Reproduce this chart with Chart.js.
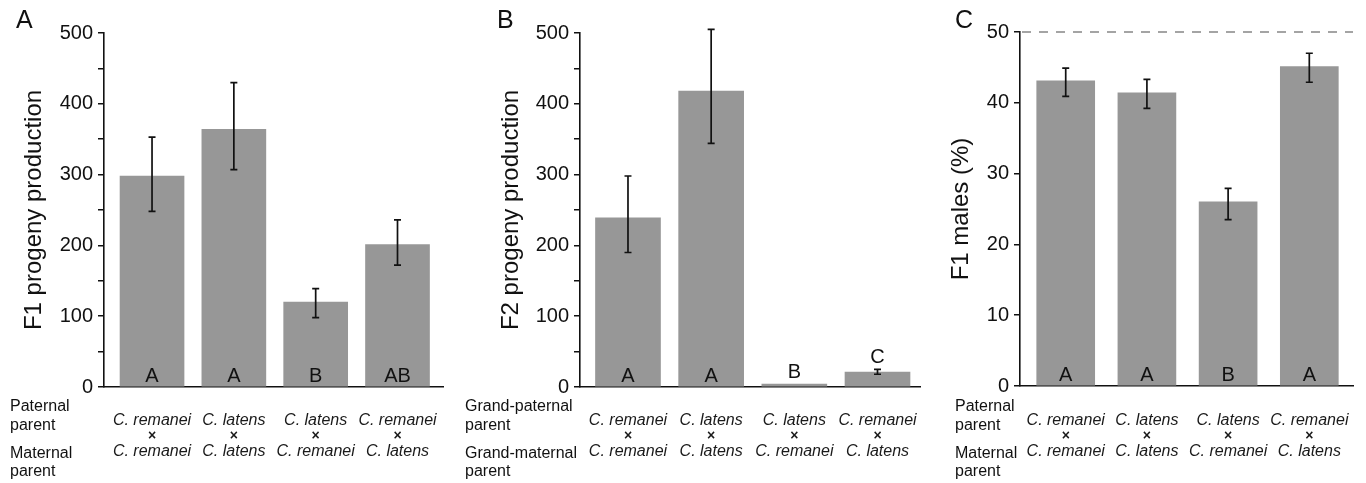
<!DOCTYPE html>
<html><head><meta charset="utf-8">
<script src="https://cdn.jsdelivr.net/npm/chart.js@4/dist/chart.umd.min.js"></script>
<style>
html,body{margin:0;padding:0;background:#fff;width:1366px;height:483px;overflow:hidden}
canvas{position:absolute;top:0}
</style></head><body>
<canvas id="cA" width="460" height="483" style="left:0"></canvas>
<canvas id="cB" width="465" height="483" style="left:460px"></canvas>
<canvas id="cC" width="441" height="483" style="left:925px"></canvas>
<script>
// ---- data ----
const paternal = ['C. remanei', 'C. latens', 'C. latens', 'C. remanei'];
const maternal = ['C. remanei', 'C. latens', 'C. remanei', 'C. latens'];

const f1Progeny     = [298, 364, 120, 201];
const f1ProgenyLow  = [248, 307,  98, 172];
const f1ProgenyHigh = [353, 430, 139, 236];
const f1Letters     = ['A', 'A', 'B', 'AB'];

const f2Progeny     = [239, 418, 4, 21];
const f2ProgenyLow  = [190, 344, null, 18];
const f2ProgenyHigh = [298, 505, null, 25];
const f2Letters     = ['A', 'A', 'B', 'C'];

const f1Males     = [43.1, 41.4, 26.0, 45.1];
const f1MalesLow  = [40.9, 39.2, 23.5, 42.9];
const f1MalesHigh = [44.9, 43.3, 27.9, 47.0];
const malesLetters = ['A', 'A', 'B', 'A'];

const progenyTickLabels = [0, 100, 200, 300, 400, 500];
const malesTickLabels = [0, 10, 20, 30, 40, 50];
const expectedMalesPct = 50;

const rowLabelsParents = ['Paternal', 'parent', 'Maternal', 'parent'];
const rowLabelsGrand = ['Grand-paternal', 'parent', 'Grand-maternal', 'parent'];

// ---- drawing ----
const FONT = "'Liberation Sans', Arial, Helvetica, sans-serif";
Chart.defaults.font.family = FONT;
const INK = '#111';

const deco = {
  id: 'deco',
  afterDatasetsDraw(chart, args, o) {
    const ctx = chart.ctx, xs = chart.scales.x, ys = chart.scales.y;
    const pts = chart.data.datasets[0].data;
    ctx.save();
    if (o.refLine != null) {
      const py = ys.getPixelForValue(o.refLine);
      ctx.strokeStyle = '#a4a4a4'; ctx.lineWidth = 2; ctx.setLineDash([9, 8]);
      ctx.beginPath(); ctx.moveTo(chart.chartArea.left + 2, py); ctx.lineTo(chart.chartArea.right, py); ctx.stroke();
      ctx.setLineDash([]);
    }
    ctx.strokeStyle = INK; ctx.lineWidth = 1.7;
    pts.forEach((d, i) => {
      if (o.low[i] == null) return;
      const px = xs.getPixelForValue(d.x);
      const y1 = ys.getPixelForValue(o.low[i]), y2 = ys.getPixelForValue(o.high[i]);
      ctx.beginPath();
      ctx.moveTo(px, y1); ctx.lineTo(px, y2);
      ctx.moveTo(px - 3.5, y1); ctx.lineTo(px + 3.5, y1);
      ctx.moveTo(px - 3.5, y2); ctx.lineTo(px + 3.5, y2);
      ctx.stroke();
    });
    // significance letters
    ctx.fillStyle = INK; ctx.font = '20px ' + FONT; ctx.textAlign = 'center'; ctx.textBaseline = 'alphabetic';
    const zero = ys.getPixelForValue(0);
    pts.forEach((d, i) => {
      const px = xs.getPixelForValue(d.x);
      const top = ys.getPixelForValue(o.high[i] != null ? o.high[i] : d.y);
      const barTop = ys.getPixelForValue(d.y);
      const base = (zero - barTop > 30) ? zero - 5 : top - 6;
      ctx.fillText(o.letters[i], px, base);
    });
    ctx.restore();
  },
  afterDraw(chart, args, o) {
    const ctx = chart.ctx, xs = chart.scales.x;
    const pts = chart.data.datasets[0].data;
    ctx.save();
    ctx.fillStyle = INK;
    // panel letter
    ctx.font = '25px ' + FONT; ctx.textAlign = 'left'; ctx.textBaseline = 'alphabetic';
    ctx.fillText(o.panel, o.panelX, 28);
    // row labels
    ctx.font = '16px ' + FONT;
    const rowBase = [411, 430, 458, 476];
    o.rows.forEach((t, i) => ctx.fillText(t, o.rowX, rowBase[i]));
    // species labels
    ctx.textAlign = 'center';
    pts.forEach((d, i) => {
      const px = xs.getPixelForValue(d.x);
      ctx.fillStyle = '#1a1a1a';
      ctx.font = 'italic 16px ' + FONT;
      ctx.fillText(paternal[i], px, 425);
      ctx.fillText(maternal[i], px, 456);
      ctx.font = 'bold 14px ' + FONT;
      ctx.textBaseline = 'middle';
      ctx.fillText('×', px, 436);
      ctx.textBaseline = 'alphabetic';
    });
    ctx.restore();
  }
};

function makeChart(id, cfg) {
  const pts = cfg.values.map((v, i) => ({ x: i, y: v }));
  return new Chart(document.getElementById(id), {
    type: 'bar',
    data: { datasets: [{ data: pts, backgroundColor: '#979797', borderWidth: 0, barThickness: cfg.barW }] },
    options: {
      responsive: false, animation: false,
      layout: { padding: { left: 0, right: cfg.padRight, top: cfg.padTop, bottom: 0 } },
      plugins: {
        legend: { display: false }, tooltip: { enabled: false },
        deco: { low: cfg.low, high: cfg.high, letters: cfg.letters, refLine: cfg.refLine,
                panel: cfg.panel, panelX: cfg.panelX, rows: cfg.rows, rowX: cfg.rowX }
      },
      scales: {
        x: {
          type: 'linear', offset: false, min: cfg.xMin, max: cfg.xMax,
          ticks: { display: false }, grid: { display: false },
          border: { display: true, color: INK, width: 1.6 },
          afterFit: s => { s.height = cfg.xH; }
        },
        y: {
          min: 0, max: cfg.yMax,
          ticks: {
            stepSize: cfg.step, color: INK, padding: 5, font: { size: 20 },
            autoSkip: false,
            callback: v => cfg.tickLabels.includes(v) ? String(v) : ''
          },
          grid: { display: true, drawOnChartArea: false, drawTicks: true, tickLength: 6, color: INK, lineWidth: 1.5 },
          border: { display: true, color: INK, width: 1.6 },
          title: { display: true, text: cfg.title, color: INK, font: { size: 24 }, padding: { top: cfg.titlePad, bottom: 0 } },
          afterFit: s => { s.width = cfg.yW; }
        }
      }
    },
    plugins: [deco]
  });
}

makeChart('cA', {
  values: f1Progeny, low: f1ProgenyLow, high: f1ProgenyHigh, letters: f1Letters,
  title: 'F1 progeny production', yMax: 500, step: 50, tickLabels: progenyTickLabels,
  yW: 104, padRight: 17, padTop: 33, xH: 96, titlePad: 20, xMin: -0.587, xMax: 3.556, barW: 64,
  panel: 'A', panelX: 16, rows: rowLabelsParents, rowX: 10, refLine: null
});
makeChart('cB', {
  values: f2Progeny, low: f2ProgenyLow, high: f2ProgenyHigh, letters: f2Letters,
  title: 'F2 progeny production', yMax: 500, step: 50, tickLabels: progenyTickLabels,
  yW: 120, padRight: 5, padTop: 33, xH: 96, titlePad: 37, xMin: -0.577, xMax: 3.511, barW: 65,
  panel: 'B', panelX: 37, rows: rowLabelsGrand, rowX: 5, refLine: null
});
makeChart('cC', {
  values: f1Males, low: f1MalesLow, high: f1MalesHigh, letters: malesLetters,
  title: 'F1 males (%)', yMax: 50, step: 10, tickLabels: malesTickLabels,
  yW: 95, padRight: 13, padTop: 32, xH: 97, titlePad: 22, xMin: -0.563, xMax: 3.538, barW: 58,
  panel: 'C', panelX: 30, rows: rowLabelsParents, rowX: 30, refLine: expectedMalesPct
});
</script>
</body></html>
